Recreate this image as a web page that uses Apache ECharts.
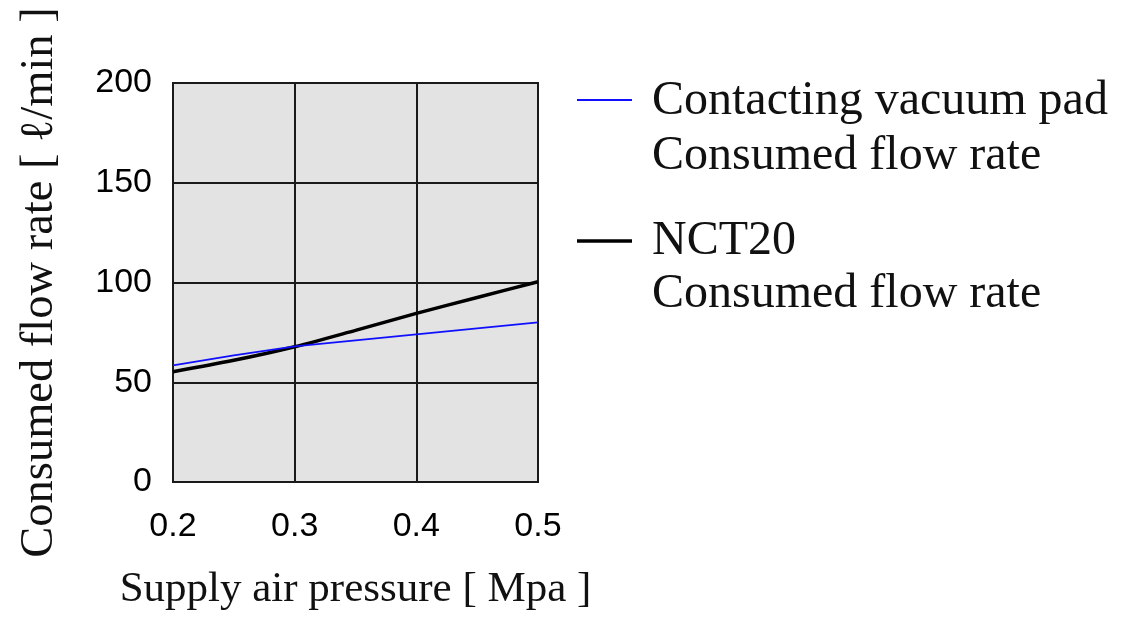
<!DOCTYPE html>
<html>
<head>
<meta charset="utf-8">
<script src="https://cdn.jsdelivr.net/npm/echarts@6/dist/echarts.min.js"></script>
<style>html,body{margin:0;padding:0;background:#fff}#c{width:1121px;height:617px}</style>
</head>
<body>
<div id="c"></div>
<script>
const pressure = [0.2, 0.25, 0.3, 0.35, 0.4, 0.45, 0.5];
const padFlow = [58.5, 63.5, 68, 71, 74, 77, 80];
const nctFlow = [55.3, 61, 67.8, 76, 84.5, 92.5, 100.4];
const xTicks = ['0.2', '0.3', '0.4', '0.5'];
const yTicks = ['0', '50', '100', '150', '200'];
const seriesNames = ['Contacting vacuum pad\nConsumed flow rate', 'NCT20\nConsumed flow rate'];
const xTitle = 'Supply air pressure [ Mpa ]';
const yTitle = 'Consumed flow rate [ \u2113/min ]';

const serif = '"Liberation Serif", "Times New Roman", serif';
const sans = '"Liberation Sans", Arial, sans-serif';

const chart = echarts.init(document.getElementById('c'));
chart.setOption({
  animation: false,
  backgroundColor: '#fff',
  grid: {
    left: 173, right: 583, top: 83, bottom: 135,
    show: true, backgroundColor: '#e3e3e3', borderColor: '#1a1a1a', borderWidth: 2
  },
  xAxis: {
    type: 'value', min: 0.2, max: 0.5, interval: 0.1,
    axisLine: { show: false }, axisTick: { show: false },
    splitLine: { show: true, lineStyle: { color: '#1a1a1a', width: 2 } },
    axisLabel: {
      margin: 28, color: '#000', fontFamily: sans, fontSize: 34,
      formatter: v => { const s = v.toFixed(1); return xTicks.includes(s) ? s : ''; }
    },
    name: xTitle, nameLocation: 'middle', nameGap: 86,
    nameTextStyle: { fontFamily: serif, fontSize: 43, color: '#111' }
  },
  yAxis: {
    type: 'value', min: 0, max: 200, interval: 50,
    axisLine: { show: false }, axisTick: { show: false },
    splitLine: { show: true, lineStyle: { color: '#1a1a1a', width: 2 } },
    axisLabel: {
      margin: 21, color: '#000', fontFamily: sans, fontSize: 34,
      formatter: v => { const s = String(Math.round(v)); return yTicks.includes(s) ? s : ''; }
    },
    name: yTitle, nameLocation: 'middle', nameGap: 110, nameRotate: 90,
    nameTextStyle: { fontFamily: serif, fontSize: 46.5, color: '#111', padding: [0, 0, 0, 0] }
  },
  series: [
    {
      name: seriesNames[0], type: 'line', showSymbol: false, symbol: 'none',
      data: pressure.map((x, i) => [x, padFlow[i]]),
      lineStyle: { color: '#1010ff', width: 1.8 }, z: 3
    },
    {
      name: seriesNames[1], type: 'line', showSymbol: false, symbol: 'none', smooth: 0.3,
      data: pressure.map((x, i) => [x, nctFlow[i]]),
      lineStyle: { color: '#000', width: 3.5 }, z: 2
    }
  ],
  graphic: [
    { type: 'line', shape: { x1: 577, y1: 100, x2: 632, y2: 100 }, style: { stroke: '#1010ff', lineWidth: 1.8 } },
    { type: 'text', left: 652, top: 74, style: { text: seriesNames[0], font: '48px ' + serif, lineHeight: 55, fill: '#111' } },
    { type: 'line', shape: { x1: 577, y1: 241, x2: 632, y2: 241 }, style: { stroke: '#000', lineWidth: 3.5 } },
    { type: 'text', left: 652, top: 215, style: { text: seriesNames[1], font: '48px ' + serif, lineHeight: 53, fill: '#111' } }
  ]
});
</script>
</body>
</html>
